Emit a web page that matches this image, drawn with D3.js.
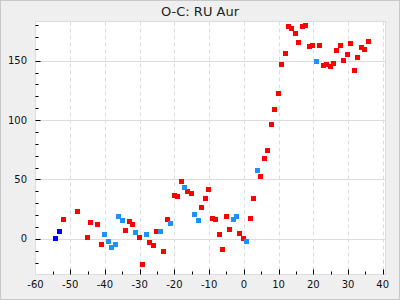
<!DOCTYPE html>
<html>
<head>
<meta charset="utf-8">
<script src="https://cdn.jsdelivr.net/npm/d3@7"></script>
<style>
  html, body { margin: 0; padding: 0; background: #efefef; }
  svg { display: block; font-family: "DejaVu Sans", sans-serif; }
</style>
</head>
<body>
<div id="chart"></div>
<script>
// O-C values [epoch, O-C] per series
const redPoints = [
  [-52.0, 16], [-48.0, 22.7], [-45.1, 0.8], [-44.2, 13.5], [-42.2, 11.8], [-41.1, -5],
  [-34.1, 6.7], [-33.0, 14.3], [-32.1, 11.8], [-30.1, 0.8], [-29.3, -21.9], [-27.2, -3.4],
  [-26.1, -5.9], [-25.2, 5.9], [-23.2, -11], [-22.0, 16], [-20.0, 36.2], [-19.1, 35.4],
  [-17.9, 48], [-16.2, 39.6], [-15.1, 37.9], [-12.1, 26.1], [-11.1, 33.7], [-10.2, 41.3],
  [-9.05, 16.8], [-8.2, 16], [-7.0, 3.4], [-6.2, -9.3], [-5.0, 18.5], [-4.1, 7.6],
  [-1.3, 4.2], [-0.1, 0], [1.9, 16.8], [2.8, 33.7], [4.8, 52.2], [5.96, 67.4], [6.8, 74.1],
  [8.0, 96], [8.8, 108.7], [10.0, 122.2], [10.86, 146.6], [12.0, 155.9], [12.9, 178.6],
  [13.75, 176.9], [14.9, 172.7], [15.8, 165.1], [16.9, 178.6], [17.8, 179.4], [18.9, 161.8],
  [19.8, 162.6], [21.8, 162.6], [23.0, 145.7], [23.8, 146.6], [25.0, 144.9], [25.9, 147.4],
  [26.7, 158.4], [27.9, 162.6], [28.75, 150.0], [29.9, 155.0], [30.8, 164.3], [31.9, 141.5],
  [32.8, 152.5], [33.9, 160.9], [34.8, 159.2], [35.95, 166.0]
];
const lightBluePoints = [
  [-40.2, 3.4], [-39.0, -2.5], [-38.2, -7.6], [-37.0, -5], [-36.2, 18.5], [-35.0, 15.2],
  [-31.3, 5], [-28.1, 3.4], [-24.1, 5.9], [-21.2, 12.6], [-17.1, 43], [-14.2, 20.2],
  [-13.1, 15.2], [-3.0, 16], [-2.1, 18.5], [0.76, -2.5], [3.9, 57.3], [21.0, 149.1]
];
const darkBluePoints = [
  [-54.1, 0], [-53.2, 5.9]
];
const xTicks = [-60, -50, -40, -30, -20, -10, 0, 10, 20, 30, 40];
const yTicks = [0, 50, 100, 150];

const W = 400, H = 300;
const plot = { left: 35.5, right: 385.5, top: 21.5, bottom: 274.5 };

const svg = d3.select("#chart").append("svg")
  .attr("width", W).attr("height", H);

// outer frame
svg.append("rect")
  .attr("x", 0.5).attr("y", 0.5).attr("width", W - 1).attr("height", H - 1)
  .attr("fill", "#efefef").attr("stroke", "#c8c8c8");

const x = d3.scaleLinear().domain([-60, 40.8]).range([plot.left, plot.right]);
const y = d3.scaleLinear().domain([-30, 183]).range([plot.bottom, plot.top]);

svg.append("rect")
  .attr("x", plot.left).attr("y", plot.top)
  .attr("width", plot.right - plot.left).attr("height", plot.bottom - plot.top)
  .attr("fill", "#fff").attr("stroke", "#dcdcdc");

// grid
svg.append("g").selectAll("line")
  .data(xTicks.filter(d => d > -60))
  .join("line")
    .attr("x1", d => Math.round(x(d)) + 0.5).attr("x2", d => Math.round(x(d)) + 0.5)
    .attr("y1", plot.top).attr("y2", plot.bottom)
    .attr("stroke", "#dcdcdc").attr("stroke-dasharray", "4,3");

svg.append("g").selectAll("line")
  .data(yTicks)
  .join("line")
    .attr("x1", plot.left).attr("x2", plot.right)
    .attr("y1", d => Math.round(y(d)) + 0.5).attr("y2", d => Math.round(y(d)) + 0.5)
    .attr("stroke", "#dcdcdc");

// tick marks inside the plot
const yMinor = d3.range(-20, 181, 10);
svg.append("g").selectAll("line")
  .data(yMinor)
  .join("line")
    .attr("x1", plot.left).attr("x2", d => plot.left + (d % 50 === 0 ? 5 : 3))
    .attr("y1", d => Math.round(y(d)) + 0.5).attr("y2", d => Math.round(y(d)) + 0.5)
    .attr("stroke", "#000");

const xMinor = d3.range(-55, 41, 5);
svg.append("g").selectAll("line")
  .data(xMinor)
  .join("line")
    .attr("x1", d => Math.round(x(d)) + 0.5).attr("x2", d => Math.round(x(d)) + 0.5)
    .attr("y1", plot.bottom).attr("y2", d => plot.bottom - (d % 10 === 0 ? 5 : 3))
    .attr("stroke", "#000");

// tick labels
svg.append("g").selectAll("text")
  .data(yTicks)
  .join("text")
    .attr("x", 27).attr("y", d => y(d))
    .attr("text-anchor", "end").attr("dominant-baseline", "central")
    .style("font-size", "10px").attr("fill", "#111")
    .text(d => d);

svg.append("g").selectAll("text")
  .data(xTicks)
  .join("text")
    .attr("x", d => x(d)).attr("y", 284)
    .attr("text-anchor", "middle").attr("dominant-baseline", "central")
    .style("font-size", "10px").attr("fill", "#111")
    .text(d => d);

// points
const size = 5;
function drawSeries(points, color) {
  svg.append("g").selectAll("rect")
    .data(points)
    .join("rect")
      .attr("x", d => Math.round(x(d[0]) - size / 2))
      .attr("y", d => Math.round(y(d[1]) - size / 2))
      .attr("width", size).attr("height", size)
      .attr("fill", color);
}
drawSeries(redPoints, "#ff0000");
drawSeries(lightBluePoints, "#1e90ff");
drawSeries(darkBluePoints, "#0000ff");

// title
svg.append("text")
  .attr("x", 200).attr("y", 11)
  .attr("text-anchor", "middle").attr("dominant-baseline", "central")
  .style("font-size", "13px").attr("fill", "#222")
  .text("O-C: RU Aur");
</script>
</body>
</html>
